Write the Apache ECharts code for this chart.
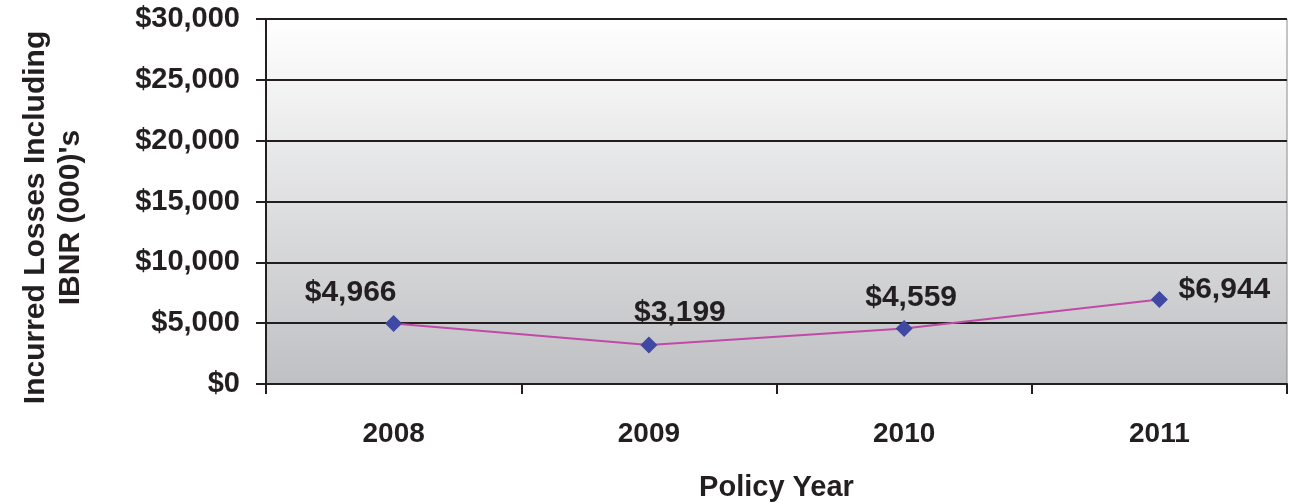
<!DOCTYPE html>
<html>
<head>
<meta charset="utf-8">
<script src="https://cdn.jsdelivr.net/npm/echarts@6/dist/echarts.min.js"></script>
<style>
  html, body { margin: 0; padding: 0; background: #fff; }
  #main { width: 1289px; height: 503px; }
</style>
</head>
<body>
<div id="main"></div>
<script>
var years = ['2008', '2009', '2010', '2011'];
var losses = [4966, 3199, 4559, 6944];
var yTicks = { min: 0, max: 30000, interval: 5000 };

// label offsets, placed by hand like the original
var labelOffsets = [[-43, -2], [31, -4], [7, -2], [65, 19]];

var myChart = echarts.init(document.getElementById('main'));
var ink = '#231f20';
var font = 'Liberation Sans, Arial, sans-serif';

function money(v) {
    return '$' + v.toString().replace(/\B(?=(\d{3})+(?!\d))/g, ',');
}

var option = {
    animation: false,
    grid: {
        left: 266, right: 2, top: 19, bottom: 119,
        outerBoundsMode: 'none',
        containLabel: false,
        show: true,
        borderColor: '#8a8a8c',
        borderWidth: 1,
        backgroundColor: new echarts.graphic.LinearGradient(0, 0, 0, 1, [
            { offset: 0, color: '#ffffff' },
            { offset: 1, color: '#bfc0c3' }
        ])
    },
    xAxis: {
        type: 'category',
        data: years,
        boundaryGap: true,
        name: 'Policy Year',
        nameLocation: 'middle',
        nameGap: 89,
        nameTextStyle: { color: ink, fontSize: 29, fontWeight: 'bold', fontFamily: font },
        axisLine: { lineStyle: { color: ink, width: 2 } },
        axisTick: { show: true, alignWithLabel: false, length: 10, lineStyle: { color: ink, width: 2 } },
        axisLabel: { color: ink, fontSize: 28, fontWeight: 'bold', fontFamily: font, margin: 36 }
    },
    yAxis: {
        type: 'value',
        min: yTicks.min,
        max: yTicks.max,
        interval: yTicks.interval,
        name: "Incurred Losses Including\nIBNR (000)'s",
        nameLocation: 'middle',
        nameRotate: 90,
        nameGap: 178,
        nameTextStyle: { color: ink, fontSize: 30, fontWeight: 'bold', fontFamily: font, lineHeight: 35, padding: [0, 32, 0, 0] },
        axisLine: { show: true, lineStyle: { color: ink, width: 2 } },
        axisTick: { show: true, length: 10, lineStyle: { color: ink, width: 2 } },
        axisLabel: { color: ink, fontSize: 29, fontWeight: 'bold', fontFamily: font, margin: 26, formatter: money },
        splitLine: { show: true, lineStyle: { color: ink, width: 2 } }
    },
    series: [{
        type: 'line',
        data: losses.map(function (v, i) {
            return { value: v, label: { offset: labelOffsets[i] } };
        }),
        symbol: 'diamond',
        symbolSize: 17,
        lineStyle: { color: '#c04aa6', width: 2 },
        itemStyle: { color: '#3f48a3' },
        label: {
            show: true,
            position: 'top',
            distance: 5,
            color: ink,
            fontSize: 30,
            fontWeight: 'bold',
            fontFamily: font,
            formatter: function (p) { return money(p.value); }
        }
    }]
};

myChart.setOption(option);
</script>
</body>
</html>
